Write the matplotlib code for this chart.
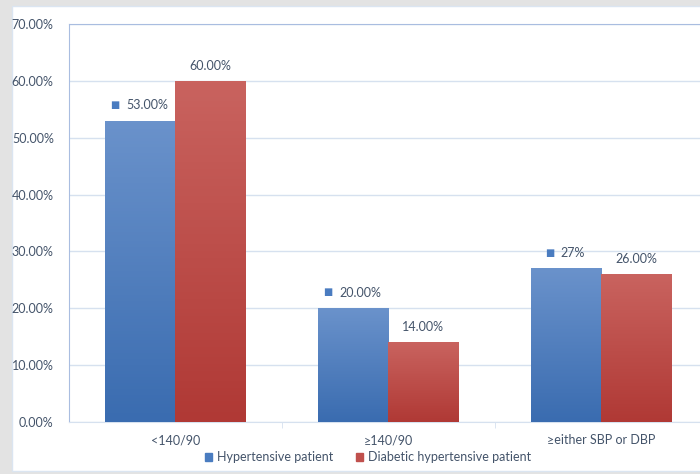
import numpy as np
import matplotlib.pyplot as plt
from matplotlib.patches import Rectangle
from matplotlib.colors import LinearSegmentedColormap

plt.rcParams['font.family'] = ['Lato', 'DejaVu Sans']

categories = ['<140/90', '≥140/90', '≥either SBP or DBP']
hyper = [53, 20, 27]
diabetic = [60, 14, 26]
hyper_labels = ['53.00%', '20.00%', '27%']
diabetic_labels = ['60.00%', '14.00%', '26.00%']
yticks = [0, 10, 20, 30, 40, 50, 60, 70]

txt = '#44546a'
grid_c = '#d6e1ef'
axis_c = '#a9bde0'

fig = plt.figure(figsize=(7, 4.74), dpi=100, facecolor='#e3e3e3')
# white chart panel
fig.patches.append(Rectangle((12/700, 1 - 471/474), 700/700, (471 - 6)/474,
                             transform=fig.transFigure, facecolor='white',
                             edgecolor='#dbe5f1', lw=1, zorder=-10))

ax = fig.add_axes([69/700, 1 - 422/474, (707.5 - 69)/700, (422 - 24)/474])
ax.set_facecolor('none')

x = np.arange(len(categories))
w = 0.33

blue_cm = LinearSegmentedColormap.from_list('b', ['#3a6cb0', '#6a92cb'])
red_cm = LinearSegmentedColormap.from_list('r', ['#b03935', '#c9635f'])
grad = np.linspace(0, 1, 100).reshape(-1, 1)


def gradient_bars(xs, vals, cmap):
    bars = ax.bar(xs, vals, w, color='none', edgecolor='none', zorder=3)
    for b in bars:
        x0, y0 = b.get_x(), b.get_y()
        im = ax.imshow(grad, cmap=cmap, origin='lower', aspect='auto',
                       extent=[x0, x0 + b.get_width(), y0, y0 + b.get_height()],
                       zorder=3)
        im.set_clip_path(b)
    return bars


gradient_bars(x - w/2, hyper, blue_cm)
gradient_bars(x + w/2, diabetic, red_cm)

for i in range(len(categories)):
    t = ax.annotate(hyper_labels[i], (x[i] - w/2, hyper[i]), xytext=(5, 11),
                    textcoords='offset points', ha='center', va='center',
                    color=txt, fontsize=9)
    # legend key in front of the blue labels
    ax.annotate('■', (0, 0.5), xycoords=t, xytext=(-8, 0.5),
                textcoords='offset points', ha='center', va='center',
                color='#4a7cc0', fontsize=7, family='DejaVu Sans')
    ax.annotate(diabetic_labels[i], (x[i] + w/2, diabetic[i]), xytext=(0, 11),
                textcoords='offset points', ha='center', va='center',
                color=txt, fontsize=9)

ax.set_xlim(-0.5, len(categories) - 0.5)
ax.set_ylim(0, 70)
ax.set_yticks(yticks)
ax.set_yticklabels(['%.2f%%' % v for v in yticks], color=txt, fontsize=9)
ax.tick_params(axis='y', length=0, pad=11)
ax.set_xticks(x)
ax.set_xticklabels(categories, color=txt, fontsize=9)
ax.set_xticks([0.5, 1.5], minor=True)
ax.tick_params(axis='x', which='major', length=0, pad=9)
ax.tick_params(axis='x', which='minor', length=4, color=grid_c)
ax.yaxis.grid(True, color=grid_c, lw=1, zorder=0)
ax.set_axisbelow(True)
ax.spines['right'].set_visible(False)
ax.spines['left'].set_color(axis_c)
ax.spines['bottom'].set_color(grid_c)
ax.spines['top'].set_color(axis_c)

h1 = Rectangle((0, 0), 1, 1, color='#4a7cc0')
h2 = Rectangle((0, 0), 1, 1, color='#c0504d')
fig.legend([h1, h2], ['Hypertensive patient', 'Diabetic hypertensive patient'],
           loc='center', bbox_to_anchor=(368/700, 1 - 457/474), ncol=2,
           frameon=False, fontsize=9, labelcolor=txt, handlelength=0.6,
           handleheight=0.6, handletextpad=0.4, columnspacing=1.8)

fig.savefig('out.png', dpi=100, facecolor=fig.get_facecolor())
